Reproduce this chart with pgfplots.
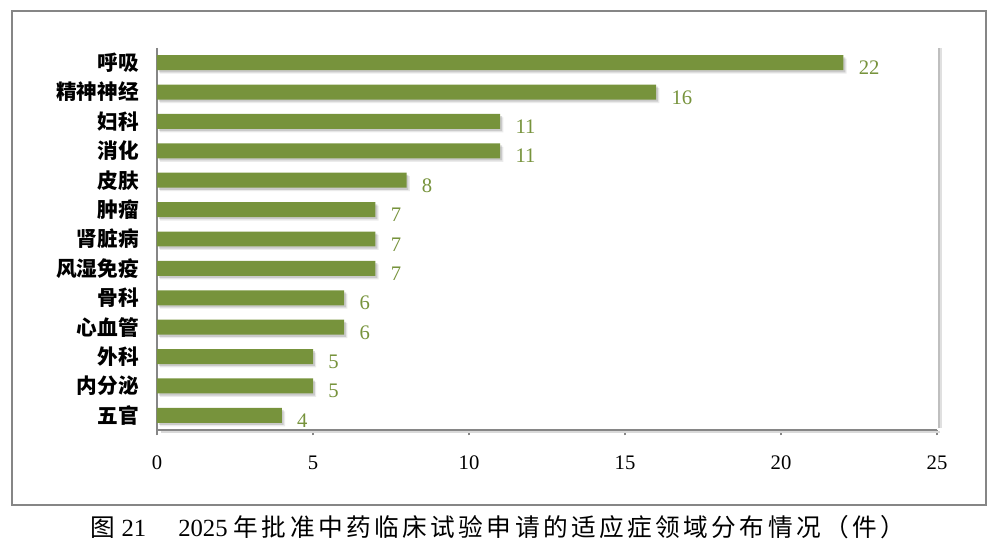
\documentclass[border=0pt]{standalone}
\usepackage{pgfplots}
\pgfplotsset{compat=1.18}
\usepackage{fontspec}
\setmainfont{Liberation Serif}
\newfontfamily\cjk{Noto Sans CJK SC}
\newfontfamily\cjkcap[LetterSpace=14]{Noto Sans CJK SC}
\usetikzlibrary{shadows}
\definecolor{barg}{HTML}{77933C}
\definecolor{framegray}{HTML}{868686}
\begin{document}
\begin{tikzpicture}[x=1pt,y=1pt]
\useasboundingbox (-117.75,-93.75) rectangle (631.5,322.5);
\draw[framegray, line width=1pt] (-108.75,-56.25) rectangle (621.75,314.25);
\begin{axis}[
  at={(0,0)}, anchor=south west,
  scale only axis, width=585pt, height=286.5pt,
  xmin=0, xmax=25, ymin=-0.5, ymax=12.5,
  y dir=reverse,
  axis lines*=left,
  axis line style={framegray, line width=0.8pt},
  xtick={0,5,...,25},
  ytick={0,...,12},
  yticklabels={呼吸,精神神经,妇科,消化,皮肤,肿瘤,肾脏病,风湿免疫,骨科,心血管,外科,内分泌,五官},
  minor ytick={-0.5,0.5,...,12.5},
  major tick length=4pt, minor tick length=4pt,
  tick align=outside,
  tick style={framegray, line width=0.8pt},
  ytick style={draw=none},
  minor tick style={framegray, line width=0.8pt},
  yticklabel style={font=\cjk\bfseries\fontsize{15.5}{18}\selectfont, xshift=-6pt},
  xticklabel style={font=\fontsize{15.5}{18}\selectfont, yshift=-12pt},
  /pgf/number format/assume math mode=true,
  xbar, bar width=0.51,
  nodes near coords,
  nodes near coords style={font=\fontsize{15.5}{18}\selectfont, text=barg, anchor=west, xshift=8pt, yshift=-4pt},
  clip=false,
]
\addplot[fill=barg, draw=none,
  drop shadow={shadow xshift=2.4pt, shadow yshift=-2.6pt, fill=black, opacity=0.08},
  drop shadow={shadow xshift=1.4pt, shadow yshift=-1.6pt, fill=black, opacity=0.14}] coordinates {
(22,0) (16,1) (11,2) (11,3) (8,4) (7,5) (7,6) (7,7) (6,8) (6,9) (5,10) (5,11) (4,12)};
\draw[black!12, line width=3pt] ([xshift=2.2pt]rel axis cs:1,0.005) -- ([xshift=2.2pt]rel axis cs:1,1);
\draw[black!25, line width=1.4pt] ([xshift=1.6pt]rel axis cs:1,0.005) -- ([xshift=1.6pt]rel axis cs:1,1);
\draw[black!15, line width=2pt] ([yshift=-1.6pt]rel axis cs:0.005,0) -- ([yshift=-1.6pt,xshift=2pt]rel axis cs:1,0);
\draw[framegray, line width=0.8pt] (rel axis cs:0,0) -- (rel axis cs:1,0);
\end{axis}
\node[font=\fontsize{18.5}{22}\selectfont] at (255.75,-72.75) {{\cjkcap 图} 21\hspace{1.3em}2025 {\cjkcap 年批准中药临床试验申请的适应症领域分布情况（件）}};
\end{tikzpicture}
\end{document}
